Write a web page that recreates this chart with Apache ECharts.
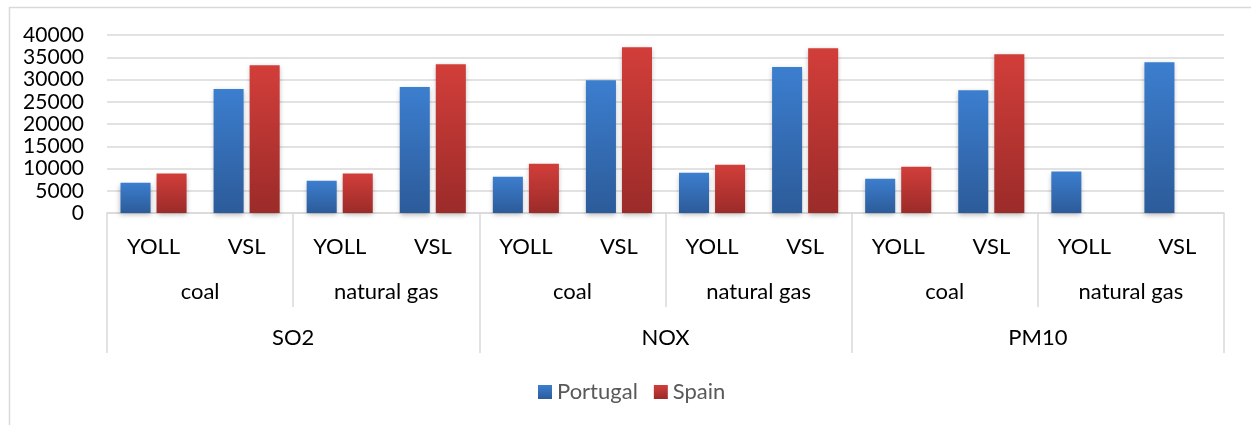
<!DOCTYPE html>
<html>
<head>
<meta charset="utf-8">
<script src="https://cdn.jsdelivr.net/npm/echarts@6/dist/echarts.min.js"></script>
<style>
  html, body { margin: 0; padding: 0; background: #fff; }
  #chart { width: 1251px; height: 425px; }
</style>
</head>
<body>
<div id="chart"></div>
<script>
// Three-level category axis: measure / fuel / pollutant
const measures = ['YOLL', 'VSL', 'YOLL', 'VSL', 'YOLL', 'VSL', 'YOLL', 'VSL', 'YOLL', 'VSL', 'YOLL', 'VSL'];
const fuels = ['coal', 'natural gas', 'coal', 'natural gas', 'coal', 'natural gas'];
const pollutants = ['SO2', 'NOX', 'PM10'];

const portugal = [6800, 27850, 7250, 28300, 8150, 29850, 9050, 32800, 7700, 27600, 9300, 33900];
const spain = [8850, 33200, 8850, 33450, 11050, 37250, 10850, 37000, 10400, 35700, null, null];

const yTicks = { min: 0, max: 40000, interval: 5000 };

const FONT = 'Lato, "Open Sans", sans-serif';
const GRID_GRAY = '#d9d9d9';

function vGrad(top, bottom) {
  return new echarts.graphic.LinearGradient(0, 0, 0, 1, [
    { offset: 0, color: top },
    { offset: 1, color: bottom }
  ]);
}

const chart = echarts.init(document.getElementById('chart'), null, { renderer: 'canvas' });

const barShadow = {
  shadowBlur: 5,
  shadowColor: 'rgba(0,0,0,0.28)',
  shadowOffsetY: 2
};

chart.setOption({
  animation: false,
  backgroundColor: '#ffffff',
  textStyle: { fontFamily: FONT },
  graphic: [{
    type: 'rect',
    left: 7, top: 5,
    shape: { width: 1300, height: 500 },
    style: { fill: 'none', stroke: '#d9d9d9', lineWidth: 1.5 },
    silent: true
  }],
  grid: { left: 107, right: 27, top: 35, bottom: 212, containLabel: false },
  legend: {
    left: 538, top: 381, padding: 0,
    itemWidth: 14, itemHeight: 14, itemGap: 16,
    icon: 'rect',
    textStyle: { fontFamily: FONT, fontSize: 22, color: '#595959' },
    data: ['Portugal', 'Spain']
  },
  xAxis: [
    {
      type: 'category',
      data: measures,
      position: 'bottom',
      axisLine: { show: true, lineStyle: { color: GRID_GRAY, width: 1.5 } },
      axisTick: { show: false },
      axisLabel: { interval: 0, margin: 23, fontSize: 22, color: '#000', fontFamily: FONT }
    },
    {
      type: 'category',
      data: fuels,
      position: 'bottom',
      gridIndex: 0,
      axisLine: { show: false },
      axisTick: { show: true, interval: 0, length: 94, lineStyle: { color: GRID_GRAY, width: 1.5 } },
      axisLabel: { interval: 0, margin: 68, fontSize: 22, color: '#000', fontFamily: FONT }
    },
    {
      type: 'category',
      data: pollutants,
      position: 'bottom',
      gridIndex: 0,
      axisLine: { show: false },
      axisTick: { show: true, interval: 0, length: 140, lineStyle: { color: GRID_GRAY, width: 1.5 } },
      axisLabel: { interval: 0, margin: 114, fontSize: 22, color: '#000', fontFamily: FONT }
    }
  ],
  yAxis: {
    type: 'value',
    min: yTicks.min, max: yTicks.max, interval: yTicks.interval,
    axisLine: { show: false },
    axisTick: { show: false },
    axisLabel: {
      margin: 23, fontSize: 21, color: '#000', fontFamily: FONT,
      formatter: (v) => String(v)
    },
    splitLine: { show: true, lineStyle: { color: GRID_GRAY, width: 1.5 } }
  },
  series: [
    {
      name: 'Portugal',
      type: 'bar',
      xAxisIndex: 0,
      data: portugal,
      barGap: '20%',
      barCategoryGap: '29%',
      itemStyle: Object.assign({ color: vGrad('#3c7ecf', '#2c5b99') }, barShadow)
    },
    {
      name: 'Spain',
      type: 'bar',
      xAxisIndex: 0,
      data: spain,
      barGap: '20%',
      barCategoryGap: '29%',
      itemStyle: Object.assign({ color: vGrad('#d23e3a', '#9b2b29') }, barShadow)
    }
  ]
});
</script>
</body>
</html>
